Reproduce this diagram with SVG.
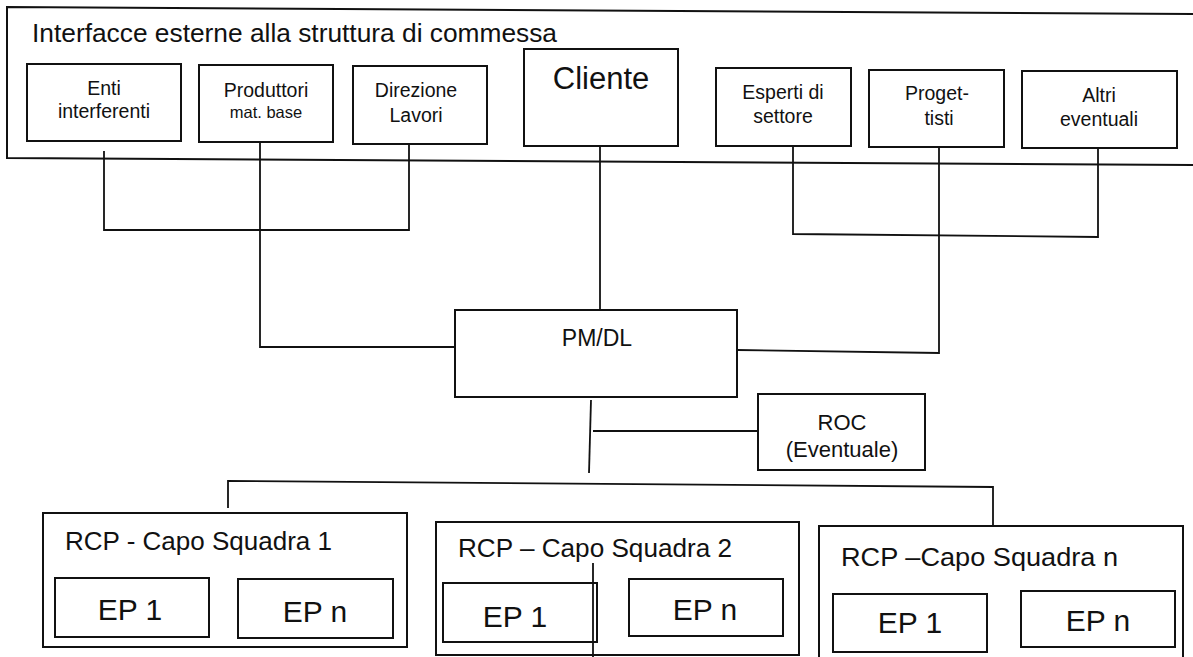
<svg xmlns="http://www.w3.org/2000/svg" width="1193" height="657" viewBox="0 0 1193 657">
<style>
  .box { fill: #fff; stroke: #111; stroke-width: 2; }
  .frame { fill: none; stroke: #111; stroke-width: 2; }
  .ln { fill: none; stroke: #111; stroke-width: 1.8; }
  text { font-family: "Liberation Sans", Arial, sans-serif; fill: #111; }
  .lbl { font-size: 19.5px; text-anchor: middle; }
  .small { font-size: 16.5px; text-anchor: middle; }
  .big { font-size: 31px; text-anchor: middle; }
  .mid { font-size: 23px; text-anchor: middle; }
  .ttl { font-size: 25px; }
  .ep { font-size: 30px; text-anchor: middle; }
</style>
<rect width="1193" height="657" fill="#fff"/>

<g id="interfacce">
  <path class="frame" d="M1200,14 L7,7 L7,158 L1200,165"/>
  <text class="ttl" x="32" y="42" textLength="525" lengthAdjust="spacingAndGlyphs">Interfacce esterne alla struttura di commessa</text>
</g>

<g id="connectors">
  <path class="ln" d="M104,151 V230 H409 V144"/>
  <path class="ln" d="M260,142 V347 H455"/>
  <path class="ln" d="M600,146 V310"/>
  <path class="ln" d="M793,146 V234 L1098,237 V148"/>
  <path class="ln" d="M939,147 V353 L737,350"/>
  <path class="ln" d="M591,400 L589,473"/>
  <path class="ln" d="M593,431 H758"/>
  <path class="ln" d="M228,508 V481 L993,487 V526"/>
</g>

<g id="enti">
  <rect class="box" x="27" y="64" width="154" height="77"/>
  <text class="lbl" x="104" y="95">Enti</text>
  <text class="lbl" x="104" y="118">interferenti</text>
</g>
<g id="produttori">
  <rect class="box" x="199" y="65" width="134" height="77"/>
  <text class="lbl" x="266" y="97">Produttori</text>
  <text class="small" x="266" y="118">mat. base</text>
</g>
<g id="direzione">
  <rect class="box" x="353" y="66" width="134" height="78"/>
  <text class="lbl" x="416" y="97">Direzione</text>
  <text class="lbl" x="416" y="122">Lavori</text>
</g>
<g id="cliente">
  <rect class="box" x="524" y="49" width="154" height="97"/>
  <text class="big" x="601" y="89">Cliente</text>
</g>
<g id="esperti">
  <rect class="box" x="716" y="68" width="135" height="78"/>
  <text class="lbl" x="783" y="99">Esperti di</text>
  <text class="lbl" x="783" y="123">settore</text>
</g>
<g id="progettisti">
  <rect class="box" x="869" y="70" width="135" height="77"/>
  <text class="lbl" x="937" y="100">Proget-</text>
  <text class="lbl" x="939" y="125">tisti</text>
</g>
<g id="altri">
  <rect class="box" x="1022" y="71" width="155" height="77"/>
  <text class="lbl" x="1099" y="102">Altri</text>
  <text class="lbl" x="1099" y="126">eventuali</text>
</g>

<g id="pmdl">
  <rect class="box" x="455" y="310" width="282" height="87"/>
  <text class="mid" x="597" y="346">PM/DL</text>
</g>
<g id="roc">
  <rect class="box" x="758" y="394" width="167" height="76"/>
  <text class="mid" x="842" y="430" style="font-size:22px">ROC</text>
  <text class="mid" x="842" y="457" style="font-size:22px">(Eventuale)</text>
</g>

<g id="rcp1">
  <rect class="box" x="43" y="513" width="364" height="134"/>
  <text class="ttl" x="65" y="550" textLength="267" lengthAdjust="spacingAndGlyphs">RCP - Capo Squadra 1</text>
  <rect class="box" x="55" y="578" width="154" height="59"/>
  <text class="ep" x="130" y="620">EP 1</text>
  <rect class="box" x="238" y="579" width="155" height="59"/>
  <text class="ep" x="315" y="622">EP n</text>
</g>
<g id="rcp2">
  <rect class="box" x="436" y="522" width="363" height="133"/>
  <text class="ttl" x="458" y="557" textLength="274" lengthAdjust="spacingAndGlyphs">RCP – Capo Squadra 2</text>
  <rect class="box" x="443" y="583" width="154" height="59"/>
  <text class="ep" x="515" y="627">EP 1</text>
  <rect class="box" x="629" y="579" width="154" height="57"/>
  <text class="ep" x="705" y="620">EP n</text>
</g>
<g id="rcpn">
  <rect class="box" x="819" y="526" width="364" height="150"/>
  <text class="ttl" x="841" y="566" textLength="277" lengthAdjust="spacingAndGlyphs">RCP –Capo Squadra n</text>
  <rect class="box" x="833" y="594" width="154" height="58"/>
  <text class="ep" x="910" y="633">EP 1</text>
  <rect class="box" x="1021" y="591" width="154" height="56"/>
  <text class="ep" x="1098" y="631">EP n</text>
</g>
<g id="connector-stray">
  <path class="ln" d="M593,563 V657"/>
</g>
</svg>
